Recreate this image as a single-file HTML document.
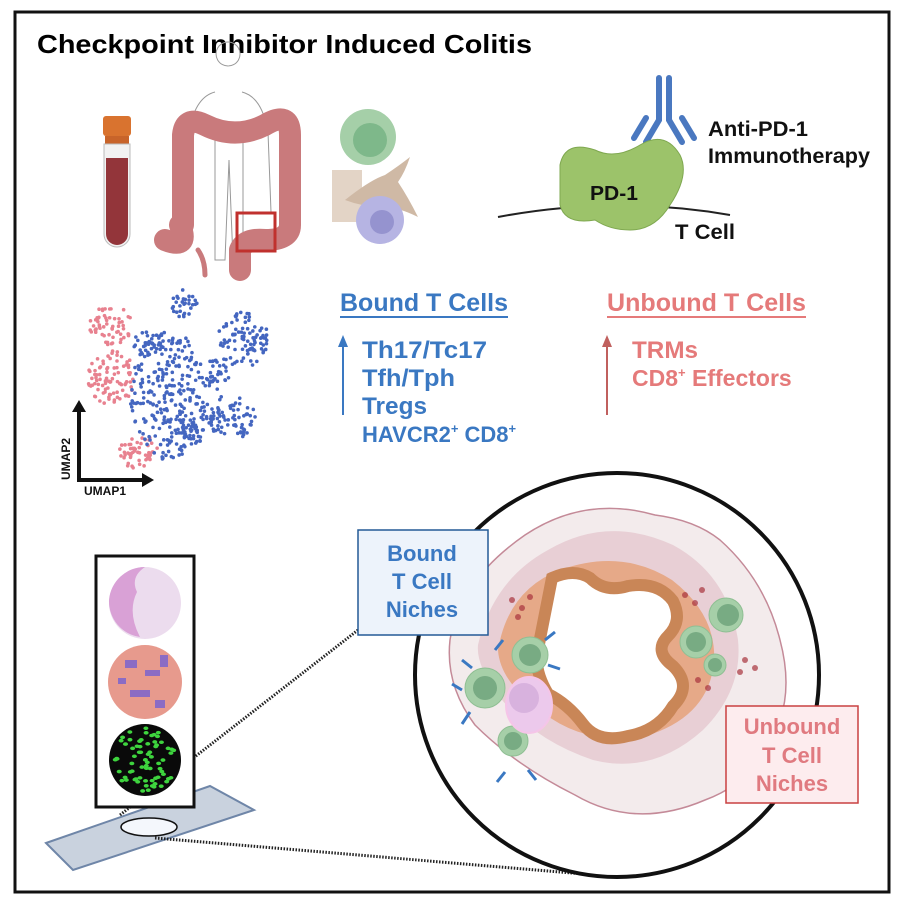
<!DOCTYPE html>
<html><head><meta charset="utf-8"><style>
html,body{margin:0;padding:0;background:#fff}
svg{display:block}
text{font-family:"Liberation Sans",sans-serif;font-weight:bold}
</style></head><body>
<svg width="902" height="904" viewBox="0 0 902 904" xmlns="http://www.w3.org/2000/svg">
<rect x="15" y="12" width="874" height="880" fill="#fff" stroke="#111" stroke-width="3"/>
<text x="37" y="53" font-size="26" fill="#000" textLength="495" lengthAdjust="spacingAndGlyphs">Checkpoint Inhibitor Induced Colitis</text>

<rect x="103" y="116" width="28" height="20" rx="3" fill="#d9732f"/>
<rect x="105" y="136" width="24" height="8" fill="#c8642a"/>
<path d="M104 144 h26 v90 a13 13 0 0 1 -26 0z" fill="#f2f2f2" stroke="#bbb"/>
<path d="M106 158 h22 v76 a11 11 0 0 1 -22 0z" fill="#93353a"/>

<path d="M228 66 a12 12 0 1 1 0.1 0 M215 92 q-20 5 -26 40 l-3 80 M242 92 q20 5 26 40 l3 80 M215 130 v130 h10 l4 -100 l4 100 h10 v-130" fill="none" stroke="#999" stroke-width="1"/>
<g fill="none" stroke="#c97a7c" stroke-linecap="round" stroke-linejoin="round">
<path d="M183 225 V135 Q185 115 205 125 Q235 140 265 125 Q290 110 290 135 V225 Q290 240 265 240 Q245 238 240 250 V270" stroke-width="22"/>
<path d="M180 225 Q190 250 165 240" stroke-width="22"/>
<path d="M198 250 Q205 260 205 275" stroke-width="5"/>
</g>
<rect x="237" y="213" width="38" height="38" fill="none" stroke="#c0312e" stroke-width="3"/>

<rect x="332" y="170" width="30" height="52" fill="#e3d4c6"/>
<circle cx="368" cy="137" r="28" fill="#a5cfa8"/>
<circle cx="370" cy="140" r="17" fill="#7eb88a"/>
<path d="M345 200 q25 -20 40 -25 q15 -10 25 -18 q-5 15 -12 25 q10 15 20 35 q-20 -10 -35 -10 q-20 0 -38 -7z" fill="#cfb9a5"/>
<circle cx="380" cy="220" r="24" fill="#b6b4e3"/>
<circle cx="382" cy="222" r="12" fill="#9593cf"/>

<g stroke="#4a78c0" stroke-width="6" stroke-linecap="round" fill="none">
<path d="M659 78 v42 l-13 22 M669 78 v42 l13 22"/>
<path d="M646 118 l-12 20 M682 118 l12 20"/>
</g>
<path d="M498 217 Q615 195 730 215" fill="none" stroke="#222" stroke-width="2"/>
<path d="M560 165 q5 -25 35 -15 q20 10 45 -5 q25 -15 40 10 q10 20 -10 50 q-15 25 -40 25 q-20 0 -35 -10 q-30 5 -35 -15z" fill="#9cc36a" stroke="#7fa850"/>
<text x="590" y="200" font-size="20" fill="#111" textLength="48" lengthAdjust="spacingAndGlyphs">PD-1</text>
<text x="708" y="136" font-size="21" fill="#111" textLength="100" lengthAdjust="spacingAndGlyphs">Anti-PD-1</text>
<text x="708" y="163" font-size="21" fill="#111" textLength="162" lengthAdjust="spacingAndGlyphs">Immunotherapy</text>
<text x="675" y="239" font-size="21" fill="#111" textLength="60" lengthAdjust="spacingAndGlyphs">T Cell</text>

<g id="dots"></g>
<path d="M79 410 v70 h65" fill="none" stroke="#111" stroke-width="4"/>
<path d="M72 412 l7 -12 l7 12z M142 473 l12 7 l-12 7z" fill="#111"/>
<text transform="translate(70,480) rotate(-90)" font-size="12" fill="#111">UMAP2</text>
<text x="84" y="495" font-size="12" fill="#111">UMAP1</text>

<text x="340" y="311" font-size="25" fill="#3a78c2" textLength="168" lengthAdjust="spacingAndGlyphs">Bound T Cells</text>
<line x1="340" y1="317" x2="508" y2="317" stroke="#3a78c2" stroke-width="2"/>
<line x1="343" y1="345" x2="343" y2="415" stroke="#3a78c2" stroke-width="2"/>
<path d="M338 347 l5 -12 l5 12z" fill="#3a78c2"/>
<g font-size="24" fill="#3a78c2">
<text x="362" y="358" textLength="125" lengthAdjust="spacingAndGlyphs">Th17/Tc17</text>
<text x="362" y="386" textLength="93" lengthAdjust="spacingAndGlyphs">Tfh/Tph</text>
<text x="362" y="414" textLength="65" lengthAdjust="spacingAndGlyphs">Tregs</text>
<text x="362" y="442" font-size="22">HAVCR2<tspan font-size="13" dy="-9">+</tspan><tspan dy="9"> CD8</tspan><tspan font-size="13" dy="-9">+</tspan></text>
</g>
<text x="607" y="311" font-size="25" fill="#e57a7a" textLength="199" lengthAdjust="spacingAndGlyphs">Unbound T Cells</text>
<line x1="607" y1="317" x2="806" y2="317" stroke="#e57a7a" stroke-width="2"/>
<line x1="607" y1="345" x2="607" y2="415" stroke="#c0605e" stroke-width="2"/>
<path d="M602 347 l5 -12 l5 12z" fill="#c0605e"/>
<g font-size="24" fill="#e57a7a">
<text x="632" y="358" textLength="66" lengthAdjust="spacingAndGlyphs">TRMs</text>
<text x="632" y="386" font-size="23">CD8<tspan font-size="13" dy="-9">+</tspan><tspan dy="9"> Effectors</tspan></text>
</g>

<polygon points="46,843 210,786 254,810 73,870" fill="#c9d2de" stroke="#6f86a8" stroke-width="2"/>
<ellipse cx="149" cy="827" rx="28" ry="9" fill="#f4f7fc" stroke="#111" stroke-width="1.5"/>
<line x1="120" y1="815" x2="358" y2="630" stroke="#222" stroke-width="3" stroke-dasharray="1.5 1.5"/>
<line x1="155" y1="838" x2="620" y2="877" stroke="#222" stroke-width="3" stroke-dasharray="1.5 1.5"/>
<rect x="96" y="556" width="98" height="251" fill="#fff" stroke="#111" stroke-width="3"/>
<circle cx="145" cy="603" r="36" fill="#ecdcee"/>
<path d="M109 600 a36 36 0 0 1 36 -33 q-15 10 -8 25 q-10 20 3 45 a36 36 0 0 1 -31 -37z" fill="#d9a1d6"/>
<circle cx="145" cy="682" r="37" fill="#e79a8d"/>
<g fill="#8b6cc4"><rect x="125" y="660" width="12" height="8"/><rect x="145" y="670" width="15" height="6"/><rect x="130" y="690" width="20" height="7"/><rect x="155" y="700" width="10" height="8"/><rect x="118" y="678" width="8" height="6"/><rect x="160" y="655" width="8" height="12"/></g>
<circle cx="145" cy="760" r="36" fill="#0a0a0a"/>
<g id="green"></g>

<circle cx="617" cy="675" r="202" fill="#fff" stroke="#111" stroke-width="4"/>
<path d="M450 640 q10 -60 75 -105 q60 -40 130 -20 q40 5 65 25 q45 40 60 100 q12 45 0 80 q-20 60 -75 80 q-70 30 -130 -5 q-60 -30 -100 -70 q-30 -40 -25 -85z" fill="#f3ebec" stroke="#c48a98" stroke-width="1.5"/>
<path d="M478 645 q15 -65 70 -95 q60 -35 125 -5 q55 30 65 95 q5 50 -35 90 q-50 45 -110 30 q-60 -20 -95 -65 q-22 -30 -20 -50z" fill="#e8cfd5"/>
<path d="M498 650 q10 -60 62 -80 q62 -22 112 10 q45 35 42 82 q-5 52 -62 72 q-62 15 -110 -22 q-42 -30 -44 -62z" fill="#e6a988"/>
<path d="M552 578 q22 -10 38 0 q15 15 38 8 q30 -5 45 15 q10 20 -5 35 q-15 15 5 30 q20 20 0 40 q-15 25 -45 30 q-30 8 -45 -12 q-15 -20 -35 -30 q-15 -25 -10 -45 q5 -25 14 -71z" fill="#fff" stroke="#c98657" stroke-width="12"/>
<g fill="#a6cfa8" stroke="#8fbf93"><circle cx="485" cy="688" r="20"/><circle cx="530" cy="655" r="18"/><circle cx="513" cy="741" r="15"/><circle cx="726" cy="615" r="17"/><circle cx="696" cy="642" r="16"/><circle cx="715" cy="665" r="11"/></g>
<g fill="#78ab83"><circle cx="485" cy="688" r="12"/><circle cx="530" cy="655" r="11"/><circle cx="513" cy="741" r="9"/><circle cx="728" cy="615" r="11"/><circle cx="696" cy="642" r="10"/><circle cx="715" cy="665" r="7"/></g>
<ellipse cx="529" cy="705" rx="23" ry="28" fill="#ecc9ec" stroke="#f5c5e8" stroke-width="2"/>
<circle cx="524" cy="698" r="15" fill="#d8b2de"/>
<g fill="#a9343e" opacity="0.7"><circle cx="512" cy="600" r="3"/><circle cx="522" cy="608" r="3"/><circle cx="530" cy="597" r="3"/><circle cx="518" cy="617" r="3"/><circle cx="685" cy="595" r="3"/><circle cx="695" cy="603" r="3"/><circle cx="702" cy="590" r="3"/><circle cx="745" cy="660" r="3"/><circle cx="755" cy="668" r="3"/><circle cx="740" cy="672" r="3"/><circle cx="698" cy="680" r="3"/><circle cx="708" cy="688" r="3"/></g>
<g stroke="#3a78c2" stroke-width="3" fill="none"><path d="M462 660 l10 8 M470 712 l-8 12 M495 650 l8 -10 M545 640 l10 -8 M548 665 l12 4 M505 772 l-8 10 M528 770 l8 10 M462 690 l-10 -6"/></g>

<rect x="358" y="530" width="130" height="105" fill="#edf3fb" stroke="#245a96" stroke-width="1.5"/>
<g font-size="22" fill="#3a78c2" text-anchor="middle"><text x="422" y="561">Bound</text><text x="422" y="589">T Cell</text><text x="422" y="617">Niches</text></g>
<rect x="726" y="706" width="132" height="97" fill="#fdecee" stroke="#c94040" stroke-width="1.5"/>
<g font-size="22" fill="#e07a80" text-anchor="middle"><text x="792" y="734">Unbound</text><text x="792" y="763">T Cell</text><text x="792" y="791">Niches</text></g>
</svg>
<script>
(function(){
var s=7;function r(){s=(s*9301+49297)%233280;return s/233280;}
var ns="http://www.w3.org/2000/svg",g=document.getElementById("dots");
var cl=[[110,325,22,20,"#e8818f",60],[112,378,24,28,"#e8818f",90],[139,452,20,17,"#e8818f",55],
[183,303,14,14,"#4466c0",30],[168,395,38,65,"#4466c0",260],[243,340,26,28,"#4466c0",90],[218,372,14,18,"#4466c0",35],[228,418,28,22,"#4466c0",80],[190,435,16,10,"#4466c0",30],[150,345,18,14,"#4466c0",30]];
cl.forEach(function(c){for(var i=0;i<c[5];i++){var a=r()*6.283,d=Math.sqrt(r());var e=document.createElementNS(ns,"circle");e.setAttribute("cx",c[0]+Math.cos(a)*d*c[2]);e.setAttribute("cy",c[1]+Math.sin(a)*d*c[3]);e.setAttribute("r",1.8);e.setAttribute("fill",c[4]);g.appendChild(e);}});
var gg=document.getElementById("green");
for(var i=0;i<70;i++){var a=r()*6.283,d=Math.sqrt(r())*32;var e=document.createElementNS(ns,"ellipse");e.setAttribute("cx",145+Math.cos(a)*d);e.setAttribute("cy",760+Math.sin(a)*d);e.setAttribute("rx",2.5);e.setAttribute("ry",1.8);e.setAttribute("fill","#3ed43e");gg.appendChild(e);}
})();
</script>
</body></html>
